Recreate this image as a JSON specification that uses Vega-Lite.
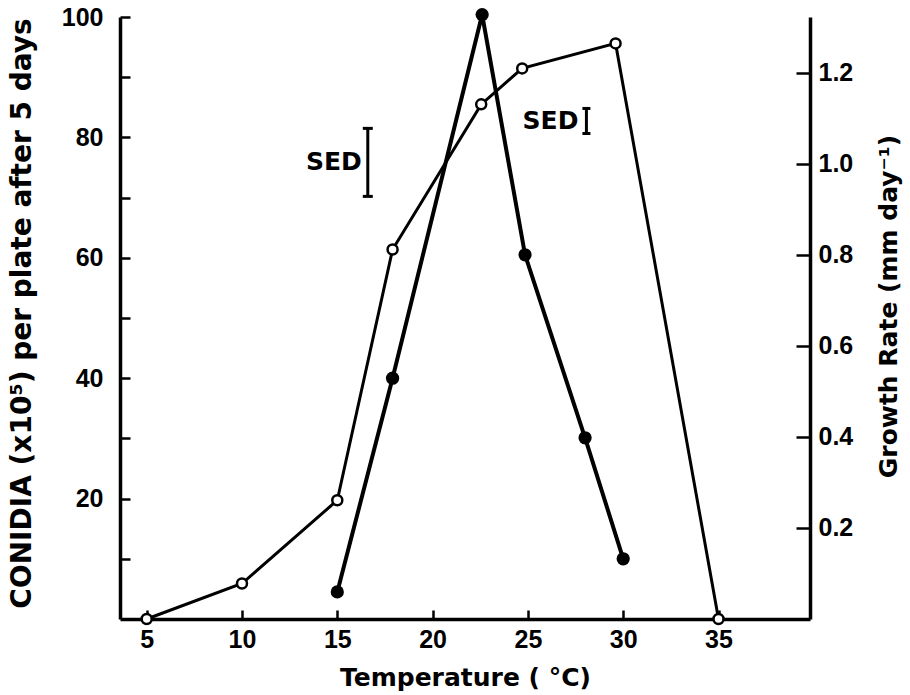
{
  "$schema": "https://vega.github.io/schema/vega-lite/v6.json",
  "width": 690,
  "height": 602,
  "autosize": {"type": "none"},
  "padding": {"left": 120, "top": 17, "right": 100, "bottom": 76},
  "background": "white",
  "config": {
    "view": {"stroke": null},
    "axis": {
      "grid": false,
      "domainColor": "black",
      "domainWidth": 3.5,
      "tickColor": "black",
      "tickWidth": 2.5,
      "labelColor": "black",
      "labelFont": "Liberation Sans",
      "labelFontWeight": "bold",
      "labelFontSize": 25,
      "titleColor": "black",
      "titleFont": "DejaVu Sans",
      "titleFontWeight": "bold",
      "titleFontSize": 25
    }
  },
  "datasets": {
    "conidia": [
      {"temp": 15.0, "value": 4.5},
      {"temp": 17.9, "value": 40.0},
      {"temp": 22.6, "value": 100.4},
      {"temp": 24.85, "value": 60.5},
      {"temp": 28.0, "value": 30.1},
      {"temp": 30.0, "value": 10.0}
    ],
    "growth": [
      {"temp": 5.0, "value": 0.0},
      {"temp": 10.0, "value": 0.078},
      {"temp": 15.0, "value": 0.261},
      {"temp": 17.9, "value": 0.812},
      {"temp": 22.55, "value": 1.131},
      {"temp": 24.7, "value": 1.21},
      {"temp": 29.6, "value": 1.265},
      {"temp": 35.0, "value": 0.0}
    ],
    "sed_conidia": [
      {"temp": 16.6, "value": 70.2, "label": "SED"},
      {"temp": 16.6, "value": 81.5, "label": "SED"}
    ],
    "sed_growth": [
      {"temp": 28.07, "value": 1.067, "label": "SED"},
      {"temp": 28.07, "value": 1.122, "label": "SED"}
    ]
  },
  "encoding": {
    "x": {
      "field": "temp",
      "type": "quantitative",
      "scale": {"domain": [3.6, 39.8], "nice": false, "zero": false},
      "axis": {
        "values": [5, 10, 15, 20, 25, 30, 35],
        "format": "d",
        "tickSize": -9,
        "labelPadding": 17,
        "title": "Temperature ( °C)",
        "titleBaseline": "alphabetic",
        "titleY": 66
      }
    }
  },
  "layer": [
    {
      "encoding": {
        "y": {
          "field": "value",
          "type": "quantitative",
          "scale": {"domain": [0, 100], "nice": false},
          "axis": {
            "orient": "left",
            "values": [10, 20, 30, 40, 50, 60, 70, 80, 90, 100],
            "labelExpr": "datum.value % 20 === 0 ? datum.label : ''",
            "tickSize": -10,
            "labelPadding": 27,
            "title": "CONIDIA (x10⁵) per plate after 5 days",
            "titleFontSize": 28,
            "titleAngle": -90,
            "titleBaseline": "middle",
            "titleAlign": "center",
            "titleX": -98,
            "titleY": 296
          }
        }
      },
      "layer": [
        {
          "data": {"name": "conidia"},
          "mark": {"type": "line", "color": "black", "strokeWidth": 4},
          "encoding": {}
        },
        {
          "data": {"name": "conidia"},
          "mark": {"type": "point", "shape": "circle", "filled": true, "color": "black", "size": 175, "opacity": 1},
          "encoding": {}
        },
        {
          "data": {"name": "sed_conidia"},
          "mark": {"type": "line", "color": "black", "strokeWidth": 3},
          "encoding": {}
        },
        {
          "data": {"name": "sed_conidia"},
          "mark": {"type": "tick", "orient": "horizontal", "color": "black", "size": 10, "thickness": 3, "opacity": 1},
          "encoding": {}
        },
        {
          "data": {"name": "sed_conidia"},
          "transform": [
            {"aggregate": [{"op": "mean", "field": "value", "as": "value"}], "groupby": ["temp", "label"]}
          ],
          "mark": {"type": "text", "align": "right", "baseline": "middle", "dx": -6, "font": "DejaVu Sans", "fontWeight": "bold", "fontSize": 25, "color": "black"},
          "encoding": {"text": {"field": "label"}}
        }
      ]
    },
    {
      "encoding": {
        "y": {
          "field": "value",
          "type": "quantitative",
          "scale": {"domain": [0, 1.323], "nice": false},
          "axis": {
            "orient": "right",
            "values": [0.2, 0.4, 0.6, 0.8, 1.0, 1.2],
            "format": ".1f",
            "tickSize": -14,
            "labelPadding": 22,
            "title": "Growth Rate (mm day⁻¹)",
            "titleAngle": -90,
            "titleBaseline": "middle",
            "titleAlign": "center",
            "titleX": 78,
            "titleY": 289
          }
        }
      },
      "layer": [
        {
          "data": {"name": "growth"},
          "mark": {"type": "line", "color": "black", "strokeWidth": 3},
          "encoding": {}
        },
        {
          "data": {"name": "growth"},
          "mark": {"type": "point", "shape": "circle", "filled": true, "fill": "white", "stroke": "black", "strokeWidth": 2.5, "size": 100, "opacity": 1},
          "encoding": {}
        },
        {
          "data": {"name": "sed_growth"},
          "mark": {"type": "line", "color": "black", "strokeWidth": 3},
          "encoding": {}
        },
        {
          "data": {"name": "sed_growth"},
          "mark": {"type": "tick", "orient": "horizontal", "color": "black", "size": 8, "thickness": 3, "opacity": 1},
          "encoding": {}
        },
        {
          "data": {"name": "sed_growth"},
          "transform": [
            {"aggregate": [{"op": "mean", "field": "value", "as": "value"}], "groupby": ["temp", "label"]}
          ],
          "mark": {"type": "text", "align": "right", "baseline": "middle", "dx": -8, "font": "DejaVu Sans", "fontWeight": "bold", "fontSize": 25, "color": "black"},
          "encoding": {"text": {"field": "label"}}
        }
      ]
    }
  ],
  "resolve": {"scale": {"y": "independent"}, "axis": {"y": "independent"}}
}
